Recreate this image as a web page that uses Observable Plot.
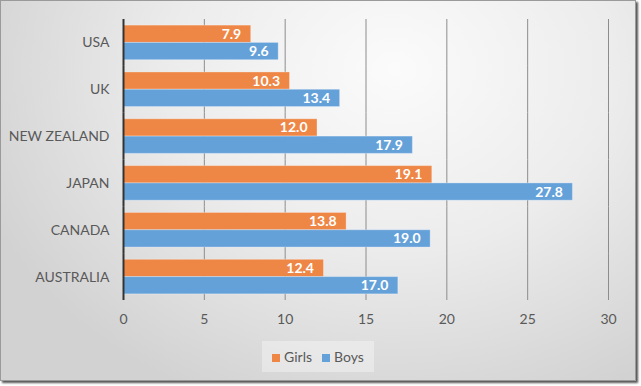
<!DOCTYPE html>
<html>
<head>
<meta charset="utf-8">
<script src="https://cdn.jsdelivr.net/npm/d3@7"></script>
<script src="https://cdn.jsdelivr.net/npm/@observablehq/plot@0.6"></script>
<style>
  html, body { margin: 0; padding: 0; background: #ffffff; }
  #frame {
    position: absolute; left: 0; top: 0;
    width: 636px; height: 381px; box-sizing: border-box;
    border: 1px solid #9a9a9a;
    box-shadow: 2px 2px 2px #555;
    background: radial-gradient(ellipse 70% 95% at 62% 18%, #fbfbfb 0%, #ececec 50%, #d2d2d2 100%);
  }
  #chart { position: absolute; left: 0; top: 0; width: 641px; }
  #chart svg { max-width: none !important; }
  #legend {
    position: absolute; left: 262px; top: 341px; width: 112px; height: 31px;
    background: rgba(255,255,255,0.35);
    font-family: Lato, "Open Sans", sans-serif; font-size: 14px; color: #595959;
    display: flex; align-items: center; justify-content: center; gap: 10px;
  }
  .sw { display: inline-block; width: 8px; height: 8px; margin-right: 4px; vertical-align: 0px; }
</style>
</head>
<body>
<div id="frame"></div>
<div id="chart"></div>
<div id="legend"></div>
<script>
const countries = ["USA", "UK", "NEW ZEALAND", "JAPAN", "CANADA", "AUSTRALIA"];
const girls = [7.9, 10.3, 12.0, 19.1, 13.8, 12.4];
const boys = [9.6, 13.4, 17.9, 27.8, 19.0, 17.0];
const seriesNames = ["Girls", "Boys"];
const seriesColors = ["#EE8646", "#65A1D9"];
const xTicks = [0, 5, 10, 15, 20, 25, 30];

const data = countries.flatMap((c, i) => [
  {country: c, series: "Girls", value: girls[i]},
  {country: c, series: "Boys", value: boys[i]}
]);

const chart = Plot.plot({
  width: 641,
  height: 338,
  marginLeft: 123,
  marginRight: 33,
  marginTop: 19,
  marginBottom: 38,
  style: {background: "transparent", fontFamily: "Lato, 'Open Sans', sans-serif", fontSize: "14px", color: "#595959", maxWidth: "none"},
  x: {domain: [0, 30], ticks: xTicks, tickSize: 0, tickPadding: 14, label: null},
  y: {domain: seriesNames, paddingInner: 0, paddingOuter: 0.354, round: false, axis: null},
  fy: {domain: countries, padding: 0, round: false, label: null, tickSize: 0, tickPadding: 14, axis: "left"},
  color: {domain: seriesNames, range: seriesColors},
  marks: [
    Plot.ruleX(xTicks, {stroke: "#8c8c8c", strokeWidth: 1}),
    Plot.barX(data, {x: "value", y: "series", fy: "country", fill: "series", stroke: "#ffffff", strokeOpacity: 0.3, strokeWidth: 1}),
    Plot.text(data, {x: "value", y: "series", fy: "country", text: d => d.value.toFixed(1), textAnchor: "end", dx: -10, fill: "white", fontWeight: "bold", fontSize: 14}),
    Plot.ruleX([0], {stroke: "#333333", strokeWidth: 2})
  ]
});
document.getElementById("chart").appendChild(chart);

const legend = document.getElementById("legend");
seriesNames.forEach((s, i) => {
  const item = document.createElement("span");
  item.innerHTML = `<span class="sw" style="background:${seriesColors[i]}"></span>${s}`;
  legend.appendChild(item);
});
</script>
</body>
</html>
